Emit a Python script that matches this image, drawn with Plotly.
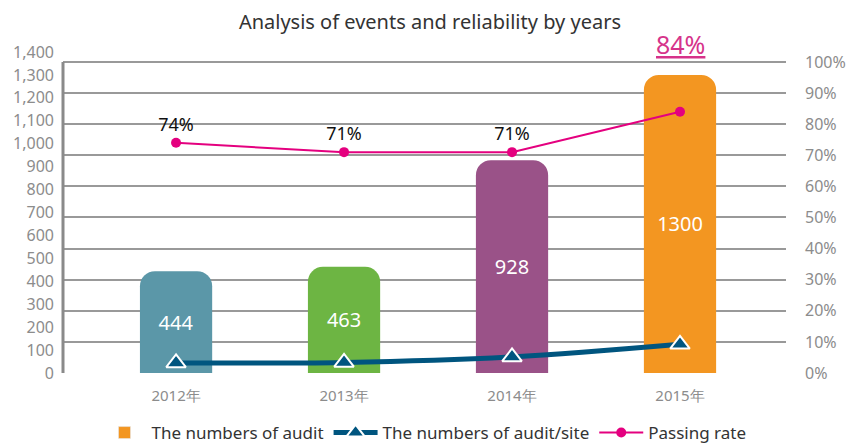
import plotly.graph_objects as go

years = ["2012年", "2013年", "2014年", "2015年"]
audits = [444, 463, 928, 1300]
audit_per_site = [44, 46, 70, 125]
passing_rate = [74, 71, 71, 84]
bar_colors = ["#5B97A8", "#6DB543", "#9A5288", "#F39621"]

left_ticks = list(range(0, 1401, 100))
right_ticks = list(range(0, 101, 10))

FONT = "Noto Sans"
GRAY = "#8c8c8c"
NAVY = "#00557F"
PINK = "#E4007F"

fig = go.Figure()

fig.add_trace(go.Bar(
    x=years, y=audits, width=0.43,
    marker=dict(color=bar_colors, cornerradius=15, line=dict(width=0)),
    text=[str(v) for v in audits], textposition="inside", insidetextanchor="middle",
    textfont=dict(color="white", size=20, family=FONT),
    showlegend=False, yaxis="y", hoverinfo="skip",
))
# legend entry for bar series (orange swatch)
fig.add_trace(go.Bar(
    x=[None], y=[None], name="The numbers of audit",
    marker=dict(color=bar_colors[-1]), showlegend=True,
))
fig.add_trace(go.Scatter(
    x=years, y=audit_per_site, name="The numbers of audit/site", yaxis="y",
    mode="lines+markers", line=dict(color=NAVY, width=5, shape="spline"),
    marker=dict(symbol="triangle-up", size=17, color=NAVY, line=dict(color="white", width=2)),
))
labels = [f"{v}%" for v in passing_rate[:-1]] + [""]
fig.add_trace(go.Scatter(
    x=years, y=passing_rate, name="Passing rate", yaxis="y2",
    mode="lines+markers+text", line=dict(color=PINK, width=2),
    marker=dict(symbol="circle", size=10, color=PINK),
    text=labels, textposition="top center",
    textfont=dict(color="#111", size=18, family=FONT),
))

fig.add_annotation(
    x=years[-1], y=audits[-1], xref="x", yref="y",
    text=f"<u>{passing_rate[-1]}%</u>", showarrow=False,
    yanchor="bottom", yshift=12,
    font=dict(color="#D6338A", size=25, family=FONT),
)

# left axis vertical line (to top gridline)
fig.add_shape(type="line", xref="paper", yref="y2", x0=0, x1=0,
              y0=right_ticks[0], y1=right_ticks[-1],
              line=dict(color="#8a8a8a", width=3))

fig.update_layout(
    width=848, height=445,
    margin=dict(l=63, r=62, t=52, b=72, autoexpand=False),
    paper_bgcolor="white", plot_bgcolor="white",
    font=dict(family=FONT, color=GRAY, size=16),
    title=dict(text="Analysis of events and reliability by years",
               x=0.507, xanchor="center", y=0.95, yanchor="middle",
               font=dict(size=20, color="#333", family=FONT)),
    xaxis=dict(type="category", range=[-0.673, 3.631], showgrid=False,
               showline=False, ticks="", tickfont=dict(size=15, color=GRAY),
               zeroline=False, ticklabelstandoff=12, automargin=False),
    yaxis=dict(range=[0, 1400], tickvals=left_ticks, tickformat=",",
               showgrid=False, zeroline=False, showline=False, automargin=False,
               ticklabelstandoff=8, tickfont=dict(size=16, color=GRAY)),
    yaxis2=dict(range=[0, 103.2], overlaying="y", side="right",
                tickvals=right_ticks, ticktext=[f"{v}%" for v in right_ticks],
                showgrid=True, gridcolor="#999999", gridwidth=2, automargin=False,
                zeroline=False, showline=False, ticklabelstandoff=18,
                tickfont=dict(size=16, color=GRAY)),
    legend=dict(orientation="h", x=0.5, xanchor="center", y=-0.187, yanchor="middle",
                font=dict(size=17, color="#333", family=FONT), itemwidth=44,
                traceorder="normal"),
    bargap=0.5,
)

fig.write_html("out.html", config={"displayModeBar": False},
               post_script="document.body.style.margin='0px';document.body.style.overflow='hidden';")
